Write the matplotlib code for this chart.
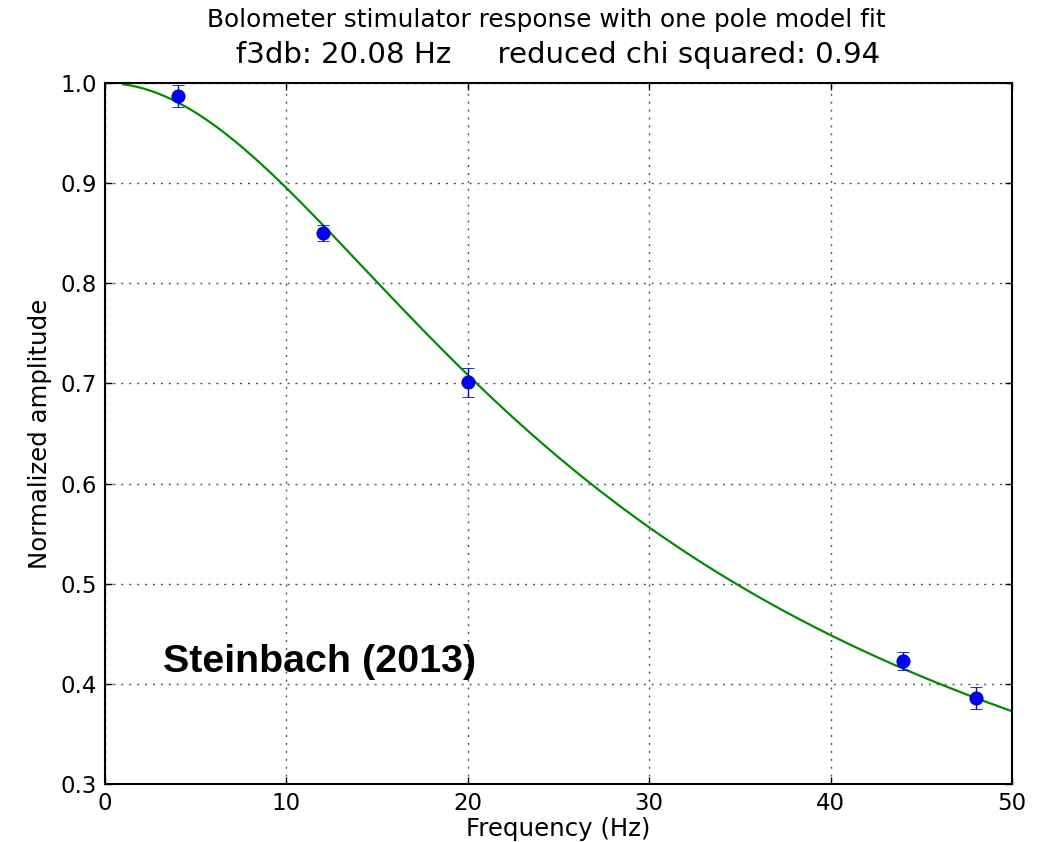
import numpy as np
import matplotlib
matplotlib.use("Agg")
import matplotlib.pyplot as plt

# Data
freq = [4, 12, 20, 44, 48]
amplitude = [0.9875, 0.8505, 0.7013, 0.4230, 0.3860]
amp_err = [0.011, 0.008, 0.0145, 0.009, 0.011]

f3db = 20.08
chi2 = 0.94
x_ticks = [0, 10, 20, 30, 40, 50]
y_ticks = [0.3, 0.4, 0.5, 0.6, 0.7, 0.8, 0.9, 1.0]

# one pole model fit curve
f_model = np.linspace(1, 50, 400)
a_model = 1.0 / np.sqrt(1.0 + (f_model / f3db) ** 2)

W, H = 1039, 842
fig = plt.figure(figsize=(W / 100, H / 100), dpi=100, facecolor="white")
ax = fig.add_axes([105 / W, 1 - 784 / H, (1012 - 105) / W, (784 - 83) / H])

font = dict(family="DejaVu Sans")
base = 17.6

ax.plot(f_model, a_model, color=(0, 0.55, 0), lw=1.6, zorder=2)
ax.errorbar(freq, amplitude, yerr=amp_err, fmt="o", color="blue", ms=9.5,
            mec="#000080", mew=0.6, ecolor="blue", elinewidth=1.0, capsize=4.5,
            capthick=1.2, zorder=3)

ax.set_xlim(0, 50)
ax.set_ylim(0.3, 1.0)
ax.set_xticks(x_ticks)
ax.set_yticks(y_ticks)
ax.set_xticklabels([str(t) for t in x_ticks], **font, fontsize=16.5)
ax.set_yticklabels([f"{t:.1f}" for t in y_ticks], **font, fontsize=16.5)
ax.tick_params(direction="in", length=5, width=1, top=True, right=True, pad=6)
ax.grid(True, linestyle=(0, (1.4, 4.3)), color="0.3", linewidth=1.0)
for s in ax.spines.values():
    s.set_linewidth(1.5)

ax.set_xlabel("Frequency (Hz)", **font, fontsize=base, labelpad=1)
ax.set_ylabel("Normalized amplitude", **font, fontsize=base, labelpad=6)

fig.text(546 / W, 1 - 20 / H, "Bolometer stimulator response with one pole model fit",
         ha="center", va="center", fontsize=17.8, **font)
fig.text(558 / W, 1 - 55 / H, f"f3db: {f3db:.2f} Hz     reduced chi squared: {chi2:.2f}",
         ha="center", va="center", fontsize=21.1, **font)

ax.text(3.2, 0.422, "Steinbach (2013)", fontsize=28.4, fontweight="bold",
        family="Liberation Sans", ha="left", va="center", zorder=4)

fig.savefig("out.png", dpi=100, facecolor="white")
